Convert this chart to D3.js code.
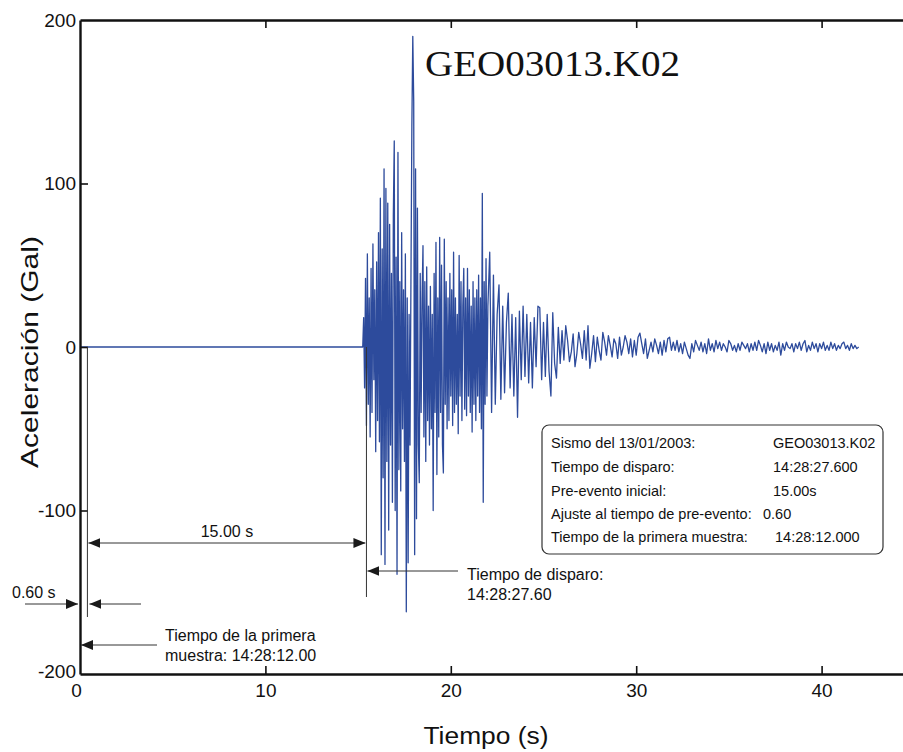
<!DOCTYPE html>
<html>
<head>
<meta charset="utf-8">
<script src="https://cdn.jsdelivr.net/npm/d3@7"></script>
<style>
  html, body { margin: 0; padding: 0; background: #fff; }
  svg { display: block; }
  text { font-family: "Liberation Sans", Arial, sans-serif; fill: #111; }
</style>
</head>
<body>
<svg id="chart" width="903" height="752"></svg>
<script>
// ---------------- DATA ----------------
const xTicks = [0, 10, 20, 30, 40];
const yTicks = [-200, -100, 0, 100, 200];
const xDomain = [0, 45];
const yDomain = [-200, 200];

const titleText = "GEO03013.K02";
const xTitle = "Tiempo (s)";
const yTitle = "Aceleración (Gal)";

// flat pre-event record (s, Gal)
const preEventTimes = [0, 15.25];
const preEventValues = [0, 0];

// strong motion, sampled every 0.05 s starting 15.25 s
const strongStart = 15.25;
const strongDt = 0.05;
const strongValues = [
  0, 18, -25, 42, -48, 57, -35, 30, -55, 48,
  -40, 63, -20, 35, -64, 52, -45, 70, -58, 91,
  -127, 60, -80, 109, -133, 97, -70, 88, -112, 75,
  -60, 45, -95, 80, 126, -100, 55, -139, 119, -75,
  40, -88, 70, -50, 35, -70, 57, -162, 30, -132,
  20, -60, 40, 135, 190, 150, -127, 109, -105, 85,
  -60, -83, 45, -40, 30, 62, -55, 40, -70, 49,
  -45, 25, -60, 37, -50, 20, -100, 45, -40, 64,
  -78, 30, -55, 67, -40, 50, -60, -77, 66, -35,
  40, -50, 30, -45, 45, -30, 35, -48, 58, -40,
  30, -35, 20, -53, 56, -30, 40, -45, 25, 48,
  -38, 30, -42, 48, -30, 35, -40, 25, -52, 40,
  -35, 30, -45, 35, -30, 44, -40, 30, -50, 94,
  -95, 40, -35, 54, -30
];

// coda, sampled every 0.1 s starting 22.0 s
const codaStart = 22.0;
const codaDt = 0.1;
const codaValues = [
  25, 58, -40, 44, -35, 20, 38, -32, 25, -28, 15, 33, -25, 20, -30, 18, -43, 22, -20, 25,
  -18, 20, -22, 15, -25, 18, -12, 25, 24, -20, 15, -18, 20, -15, -30, 21, -10, -19, 12, -10,
  10, -8, 13, 4, -9, -3, 8, -12, -4, 9, 2, -7, 10, -8, 13, -13, -4, 7, -9, 6,
  -2, -8, 9, 3, -5, 7, 1, -6, 5, 2, -7, 6, -5, 0, 7, 3, -4, 5, -6, 4,
  -5, 6, 8.5, 2, -4, 5, -7, -2, 3, -3, 5, 1, -4, 3, -5, 4, -3, 5, 6, -2,
  3, -2, 4, -3, 2, -4, 3, -1, -5, -7, 2, -3, 4, 1, -2, 3, -3, 2, -4, 5,
  -2, 2, -3, 4, -1, 3, -2, 2, 0, -3, 4, 2, -2, 1, -3, 2, -2, 3, 1, -1,
  2, -3, 2, -2, 3, -2, 4, 1, -3, 2, -4, 3, -2, 2, -3, 1, -2, 3, -5, 2,
  -2, 3, 0, -1, 2, -3, 2, -1, 3, -2, 2, 4, -3, 1, -2, 3, -1, 2, -3, 2,
  -1, 3, -2, 1, -2, 3, -1, 2, -2, 1, -1, 2, 3, -1, 1, -2, 2, -1, 1, -1, 0
];

// annotation times (s)
const firstSampleTime = 0.4;
const triggerTime = 15.45;
const infoLabels = [
  "Sismo del 13/01/2003:",
  "Tiempo de disparo:",
  "Pre-evento inicial:",
  "Ajuste al tiempo de pre-evento:",
  "Tiempo de la primera muestra:"
];
const infoValues = ["GEO03013.K02", "14:28:27.600", "15.00s", "0.60", "14:28:12.000"];

// ---------------- BUILD ----------------
const series = [];
preEventTimes.forEach((t, i) => series.push({ t, a: preEventValues[i] }));
strongValues.forEach((a, i) => series.push({ t: strongStart + i * strongDt, a }));
codaValues.forEach((a, i) => series.push({ t: codaStart + i * codaDt, a }));

const svg = d3.select("#chart");
const x = d3.scaleLinear().domain(xDomain).range([80, 80 + 45 * 18.54]);
const y = d3.scaleLinear().domain(yDomain).range([674, 20]);

// signal
svg.append("path")
  .datum(series)
  .attr("fill", "none")
  .attr("stroke", "#2d4b9c")
  .attr("stroke-width", 1.3)
  .attr("stroke-linejoin", "round")
  .attr("d", d3.line().x(d => x(d.t)).y(d => y(d.a)));

// axes
const axisColor = "#111";
const fmt = d => String(d);
function styleAxis(g, showLabels, fontSize) {
  g.select(".domain").attr("stroke", axisColor).attr("stroke-width", 2.4);
  g.selectAll(".tick line").attr("stroke", axisColor).attr("stroke-width", 1.6);
  g.selectAll(".tick text")
    .attr("fill", "#111")
    .style("font-family", "'Liberation Sans', Arial, sans-serif")
    .style("font-size", fontSize + "px");
  if (!showLabels) g.selectAll(".tick text").remove();
}

const gB = svg.append("g").attr("transform", `translate(0,${y(-200)})`)
  .call(d3.axisBottom(x).tickValues(xTicks).tickFormat(fmt).tickSizeInner(-8).tickSizeOuter(0).tickPadding(10));
styleAxis(gB, true, 19);
gB.selectAll(".tick").filter(d => d === 0).select("line").remove();
gB.selectAll(".tick").filter(d => d === 0).select("text").attr("dx", -4);

const gT = svg.append("g").attr("transform", `translate(0,${y(200)})`)
  .call(d3.axisTop(x).tickValues(xTicks).tickSizeInner(-8).tickSizeOuter(0));
styleAxis(gT, false, 19);
gT.selectAll(".tick").filter(d => d === 0).select("line").remove();

const gL = svg.append("g").attr("transform", `translate(${x(0)},0)`)
  .call(d3.axisLeft(y).tickValues(yTicks).tickFormat(fmt).tickSizeInner(-8).tickSizeOuter(0).tickPadding(4));
styleAxis(gL, true, 19);
gL.selectAll(".tick").filter(d => d === 200 || d === -200).select("line").remove();
gL.selectAll(".tick").filter(d => d === -200).select("text").attr("y", -3);

// axis titles
svg.append("text")
  .attr("x", 486).attr("y", 744)
  .attr("text-anchor", "middle")
  .style("font-size", "23px")
  .attr("textLength", 125).attr("lengthAdjust", "spacingAndGlyphs")
  .text(xTitle);

svg.append("text")
  .attr("transform", `translate(38,352) rotate(-90)`)
  .attr("text-anchor", "middle")
  .style("font-size", "24px")
  .attr("textLength", 232).attr("lengthAdjust", "spacingAndGlyphs")
  .text(yTitle);

// title
svg.append("text")
  .attr("x", 425).attr("y", 76)
  .style("font-family", "'Liberation Serif', 'Times New Roman', serif")
  .style("font-size", "35px")
  .attr("textLength", 255).attr("lengthAdjust", "spacingAndGlyphs")
  .text(titleText);

// ---------------- ANNOTATIONS ----------------
const annColor = "#333";
const defs = svg.append("defs");
defs.append("marker")
  .attr("id", "arrow")
  .attr("viewBox", "0 0 12 10")
  .attr("refX", 12).attr("refY", 5)
  .attr("markerWidth", 12).attr("markerHeight", 10)
  .attr("markerUnits", "userSpaceOnUse")
  .attr("orient", "auto-start-reverse")
  .append("path").attr("d", "M0,0 L12,5 L0,10 Z").attr("fill", "#1a1a1a");

const ann = svg.append("g").attr("stroke", annColor).attr("stroke-width", 1).attr("fill", "none");
const xa = x(firstSampleTime), xt = x(triggerTime);

ann.append("line").attr("x1", xa).attr("x2", xa).attr("y1", y(0)).attr("y2", 617);
ann.append("line").attr("x1", xt).attr("x2", xt).attr("y1", y(0)).attr("y2", 597);

ann.append("line").attr("x1", xa + 1).attr("x2", xt - 1).attr("y1", 543).attr("y2", 543)
  .attr("marker-start", "url(#arrow)").attr("marker-end", "url(#arrow)");
ann.append("line").attr("x1", 25).attr("x2", x(0) - 2).attr("y1", 604).attr("y2", 604)
  .attr("marker-end", "url(#arrow)");
ann.append("line").attr("x1", 141).attr("x2", xa + 2).attr("y1", 604).attr("y2", 604)
  .attr("marker-end", "url(#arrow)");
ann.append("line").attr("x1", 157).attr("x2", x(0) + 1).attr("y1", 645).attr("y2", 645)
  .attr("marker-end", "url(#arrow)");
ann.append("line").attr("x1", 458).attr("x2", xt + 1).attr("y1", 571).attr("y2", 571)
  .attr("marker-end", "url(#arrow)");

const annText = svg.append("g").style("font-size", "16px");
annText.append("text").attr("x", (xa + xt) / 2).attr("y", 537).attr("text-anchor", "middle").text("15.00 s");
annText.append("text").attr("x", 12).attr("y", 598).text("0.60 s");
annText.append("text").attr("x", 165).attr("y", 641).text("Tiempo de la primera");
annText.append("text").attr("x", 165).attr("y", 661).text("muestra: 14:28:12.00");
annText.append("text").attr("x", 467).attr("y", 580).text("Tiempo de disparo:");
annText.append("text").attr("x", 467).attr("y", 600).text("14:28:27.60");

// info box
svg.append("rect")
  .attr("x", 542).attr("y", 425).attr("width", 341).attr("height", 129)
  .attr("rx", 7).attr("ry", 7)
  .attr("fill", "#fff").attr("stroke", "#333").attr("stroke-width", 1.2);
const rowY = [448, 472, 496, 519, 542];
const valX = [773, 773, 773, 763, 775];
const info = svg.append("g").style("font-size", "14.5px");
infoLabels.forEach((s, i) => info.append("text").attr("x", 551).attr("y", rowY[i]).text(s));
infoValues.forEach((s, i) => info.append("text").attr("x", valX[i]).attr("y", rowY[i]).text(s));
</script>
</body>
</html>
